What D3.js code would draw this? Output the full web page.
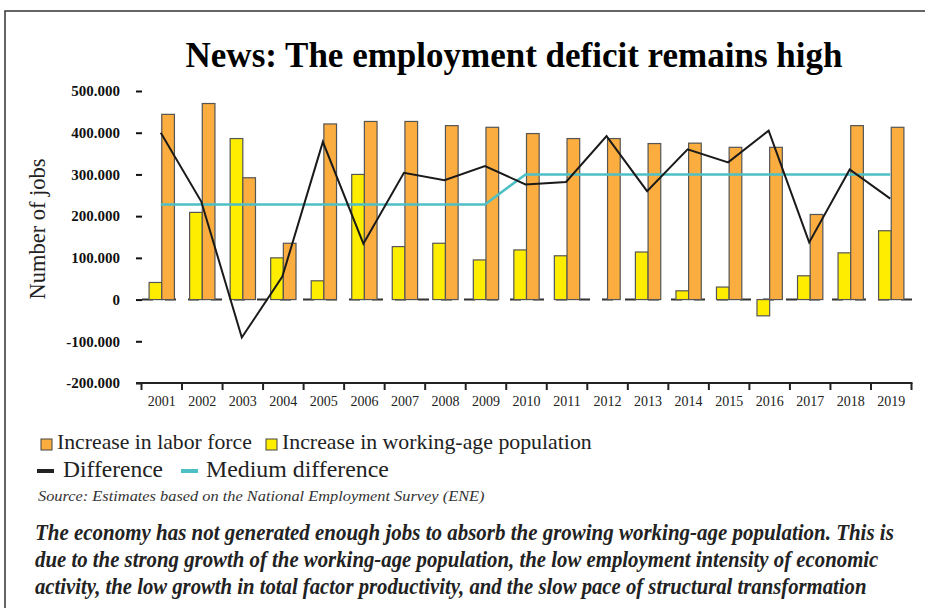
<!DOCTYPE html>
<html>

<head>
    <meta charset="UTF-8">
    <title>The employment deficit remains high</title>
    <script src="https://cdn.jsdelivr.net/npm/d3@7"></script>
    <style>
        body { margin: 0; background: #fff; }
        text { font-family: "Liberation Serif", "Times New Roman", serif; }
    </style>
</head>

<body>
    <script>
        // data (thousands of jobs)
        const years = ["2001", "2002", "2003", "2004", "2005", "2006", "2007", "2008", "2009", "2010",
            "2011", "2012", "2013", "2014", "2015", "2016", "2017", "2018", "2019"];
        const laborForce = [444, 470, 292, 135, 421, 427, 427, 417, 413, 398, 386, 386, 374, 375, 365, 365, 204, 417, 413];
        const workingAge = [41, 209, 386, 100, 45, 300, 127, 135, 95, 119, 105, 0, 114, 21, 30, -39, 57, 112, 165];
        const difference = [400, 235, -91, 55, 378, 134, 304, 286, 320, 276, 282, 392, 260, 360, 329, 405, 137, 312, 242];
        const mediumDiff = [228, 228, 228, 228, 228, 228, 228, 228, 228, 300, 300, 300, 300, 300, 300, 300, 300, 300, 300];
        const yTicks = [-200, -100, 0, 100, 200, 300, 400, 500];

        const title = "News: The employment deficit remains high";
        const yTitle = "Number of jobs";
        const legendItems = ["Increase in labor force", "Increase in working-age population", "Difference", "Medium difference"];
        const source = "Source: Estimates based on the National Employment Survey (ENE)";
        const caption = [
            "The economy has not generated enough jobs to absorb the growing working-age population. This is",
            "due to the strong growth of the working-age population, the low employment intensity of economic",
            "activity, the low growth in total factor productivity, and the slow pace of structural transformation"
        ];

        const orange = "#fbad3f";
        const yellow = "#ffed00";
        const cyan = "#4dc0c6";

        const width = 925, height = 608;

        const svg = d3.select("body").append("svg")
            .attr("width", width)
            .attr("height", height)
            .attr("font-family", "Liberation Serif");

        svg.append("rect").attr("width", width).attr("height", height).attr("fill", "#fff");

        // frame
        svg.append("path")
            .attr("d", "M5,608V11H925")
            .attr("fill", "none")
            .attr("stroke", "#333")
            .attr("stroke-width", 1.5);

        svg.append("text")
            .attr("x", 514).attr("y", 67)
            .attr("text-anchor", "middle")
            .attr("font-size", 35).attr("font-weight", "bold")
            .text(title);

        const x = d3.scaleBand().domain(years).range([141.5, 911.5]);
        const xi = d3.scaleBand().domain(["wa", "lf"]).range([0, x.bandwidth()]).paddingOuter(0.6);
        const y = d3.scaleLinear().domain([-200, 500]).range([383, 91]);

        const fmt = d3.formatLocale({ decimal: ",", thousands: ".", grouping: [3], currency: ["", ""], minus: "-" }).format(",");

        // y axis
        const gy = svg.append("g")
            .attr("transform", "translate(142,0)")
            .call(d3.axisLeft(y).tickValues(yTicks).tickSize(6).tickPadding(16).tickFormat(d => fmt(d * 1000)));
        gy.select(".domain").remove();
        gy.selectAll(".tick line").attr("stroke", "#111").attr("stroke-width", 2);
        gy.selectAll(".tick text")
            .attr("font-family", "Liberation Serif")
            .attr("font-size", 15).attr("font-weight", "bold").attr("fill", "#111");

        svg.append("text")
            .attr("transform", "translate(45,229) rotate(-90)")
            .attr("text-anchor", "middle")
            .attr("font-size", 22.5).attr("fill", "#222")
            .text(yTitle);

        // x axis
        const gx = svg.append("g")
            .attr("transform", "translate(0,383)")
            .call(d3.axisBottom(x).tickSize(0).tickPadding(13));
        gx.select(".domain").remove();
        gx.selectAll(".tick text")
            .attr("font-family", "Liberation Serif")
            .attr("font-size", 14).attr("fill", "#222");
        gx.append("line")
            .attr("x1", 136).attr("x2", 912.5)
            .attr("stroke", "#222").attr("stroke-width", 2);
        gx.selectAll(".bound")
            .data(years.map(d => x(d)).concat([x.range()[1]]))
            .join("line")
            .attr("class", "bound")
            .attr("x1", d => d).attr("x2", d => d)
            .attr("y1", 0).attr("y2", 7)
            .attr("stroke", "#222").attr("stroke-width", 2);

        // zero line
        svg.append("line")
            .attr("x1", 142).attr("x2", 912)
            .attr("y1", y(0)).attr("y2", y(0))
            .attr("stroke", "#333").attr("stroke-width", 2)
            .attr("stroke-dasharray", "11,12");

        // bars
        const rows = years.map((yr, i) => ({ year: yr, wa: workingAge[i], lf: laborForce[i] }));
        const barG = svg.append("g");
        const groups = barG.selectAll("g")
            .data(rows)
            .join("g")
            .attr("transform", d => `translate(${x(d.year)},0)`);

        groups.selectAll("rect")
            .data(d => [{ key: "wa", v: d.wa }, { key: "lf", v: d.lf }])
            .join("rect")
            .attr("x", d => xi(d.key))
            .attr("width", xi.bandwidth())
            .attr("y", d => y(Math.max(0, d.v)))
            .attr("height", d => Math.abs(y(d.v) - y(0)))
            .attr("fill", d => d.key === "wa" ? yellow : orange)
            .attr("stroke", "#555")
            .attr("stroke-width", 1.2);

        // lines
        const line = d3.line()
            .x((d, i) => x(years[i]) + x.bandwidth() / 2 - 1)
            .y(d => y(d));

        svg.append("path")
            .datum(mediumDiff)
            .attr("d", line)
            .attr("fill", "none")
            .attr("stroke", cyan)
            .attr("stroke-width", 2.5);

        svg.append("path")
            .datum(difference)
            .attr("d", line)
            .attr("fill", "none")
            .attr("stroke", "#1a1a1a")
            .attr("stroke-width", 2);

        // squeeze a text horizontally to a target width
        const fitWidth = (sel, x0, y0, w) => {
            const n = sel.node().getComputedTextLength();
            sel.attr("transform", `translate(${x0},${y0}) scale(${w / n},1)`);
        };

        // legend
        const lg = svg.append("g");
        lg.append("rect").attr("x", 41).attr("y", 439).attr("width", 11).attr("height", 11)
            .attr("fill", orange).attr("stroke", "#444");
        lg.append("text").attr("font-size", 22).attr("fill", "#222")
            .text(legendItems[0]).call(fitWidth, 57, 449, 195);
        lg.append("rect").attr("x", 266).attr("y", 439).attr("width", 11).attr("height", 11)
            .attr("fill", yellow).attr("stroke", "#444");
        lg.append("text").attr("font-size", 22).attr("fill", "#222")
            .text(legendItems[1]).call(fitWidth, 282, 449, 310);

        lg.append("line").attr("x1", 37).attr("x2", 54).attr("y1", 471).attr("y2", 471)
            .attr("stroke", "#222").attr("stroke-width", 4);
        lg.append("text").attr("font-size", 22.5).attr("fill", "#222")
            .text(legendItems[2]).call(fitWidth, 63, 477, 100);
        lg.append("line").attr("x1", 181).attr("x2", 198).attr("y1", 471).attr("y2", 471)
            .attr("stroke", cyan).attr("stroke-width", 4);
        lg.append("text").attr("font-size", 22.5).attr("fill", "#222")
            .text(legendItems[3]).call(fitWidth, 206, 477, 183);

        svg.append("text")
            .attr("font-size", 15).attr("font-style", "italic").attr("fill", "#333")
            .text(source).call(fitWidth, 38, 501, 447);

        const capLen = [859, 844, 832];
        caption.forEach((line, i) => {
            svg.append("text")
                .attr("font-size", 23).attr("font-weight", "bold").attr("font-style", "italic")
                .attr("fill", "#222")
                .text(line)
                .call(fitWidth, 35, 540 + i * 27, capLen[i]);
        });
    </script>
</body>

</html>
